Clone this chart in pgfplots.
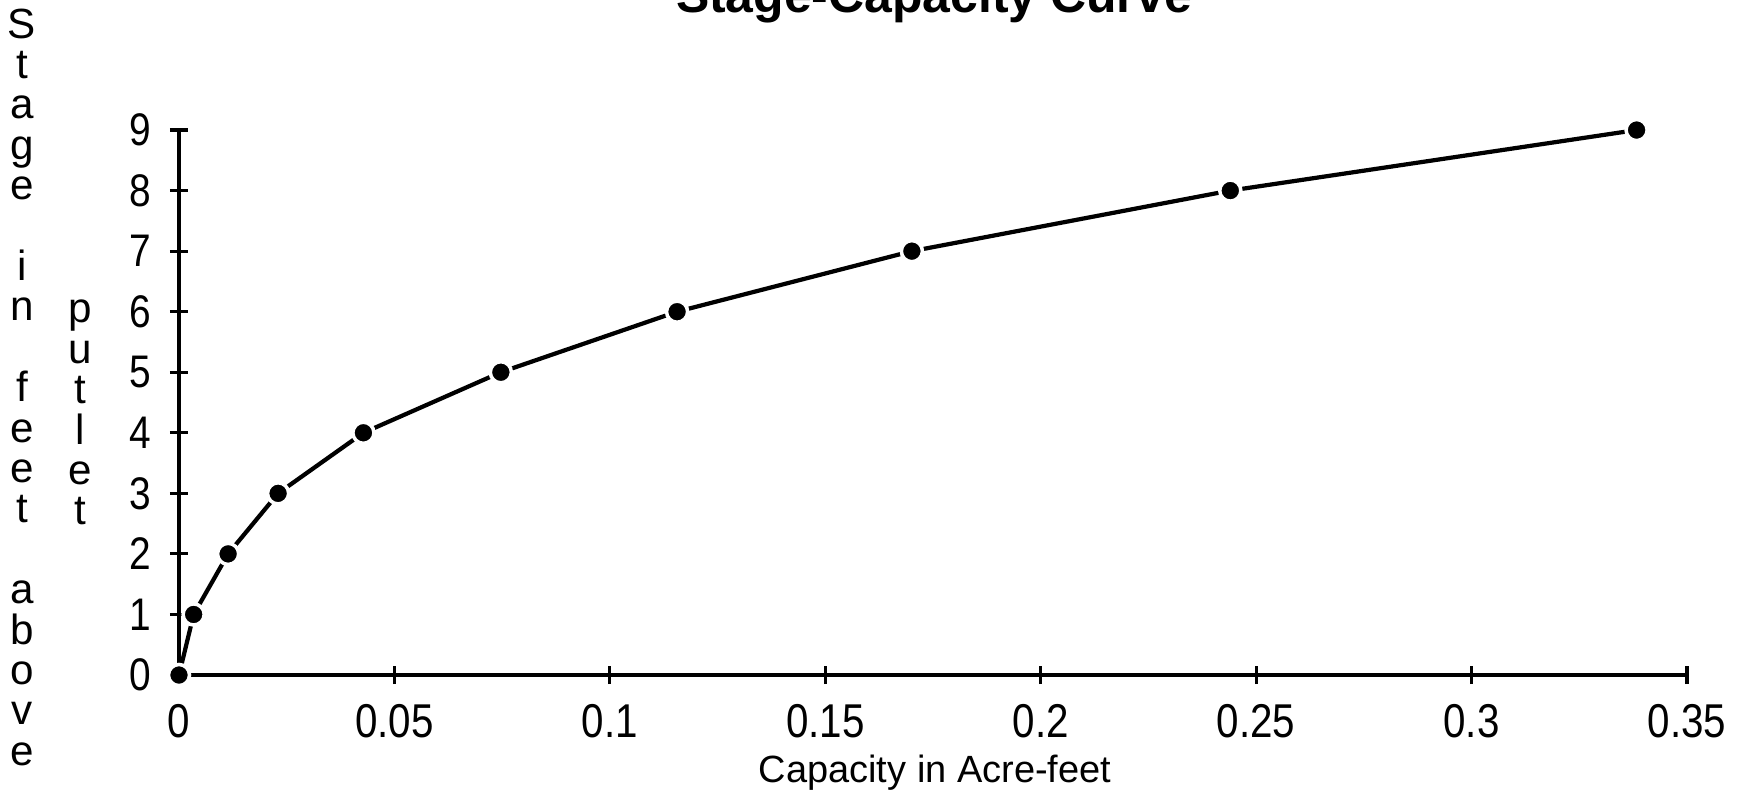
\documentclass[border=0pt]{standalone}
\usepackage{fontspec}
\setmainfont{Liberation Sans}
\newfontfamily\narrowfont[FakeStretch=0.85]{Liberation Sans}
\usepackage{pgfplots}
\pgfplotsset{compat=1.18}
\begin{document}
\begin{tikzpicture}[x=1cm,y=1cm]
\useasboundingbox (0,0) rectangle (17.52,7.96);
\begin{axis}[
  at={(1.79cm,1.21cm)}, anchor=south west,
  scale only axis, width=15.08cm, height=5.45cm,
  xmin=0, xmax=0.35, ymin=0, ymax=9,
  axis lines=left, axis line style={-, line width=1.1pt, black},
  xtick={0,0.05,0.1,0.15,0.2,0.25,0.3,0.35},
  xticklabels={0,0.05,0.1,0.15,0.2,0.25,0.3,0.35},
  ytick={0,1,2,3,4,5,6,7,8,9},
  yticklabels={0,1,2,3,4,5,6,7,8,9},
  tick align=center, major tick length=0.18cm,
  tick style={line width=0.9pt, black},
  xticklabel style={font=\narrowfont\fontsize{13.5}{15}\selectfont, yshift=-0.08cm},
  yticklabel style={font=\narrowfont\fontsize{13}{15}\selectfont, xshift=-0.06cm},
  clip=false,
]
\addplot[black, line width=1.2pt, mark=*, mark size=3.0pt,
  mark options={fill=black, draw=white, line width=1pt}]
coordinates {
 (0,0) (0.0034,1) (0.0114,2) (0.0230,3) (0.0428,4) (0.0747,5)
 (0.1156,6) (0.1701,7) (0.2440,8) (0.3383,9)
};
\end{axis}
\node[anchor=base, font=\bfseries\fontsize{14.2}{16}\selectfont] at (9.34,7.83) {Stage-Capacity Curve};
\node[anchor=base, font=\fontsize{10.8}{13}\selectfont] at (9.35,0.14) {Capacity in Acre-feet};
\foreach \ch/\k in {S/0,t/1,a/2,g/3,e/4,i/6,n/7,f/9,e/10,e/11,t/12,a/14,b/15,o/16,v/17,e/18}
  \node[anchor=base, font=\fontsize{12}{13}\selectfont, inner sep=0pt] at (0.22,{(796-38-40.4*\k)/100}) {\ch};
\foreach \ch/\k in {p/7,u/8,t/9,l/10,e/11,t/12}
  \node[anchor=base, font=\fontsize{12}{13}\selectfont, inner sep=0pt] at (0.80,{(796-40-40.4*\k)/100}) {\ch};
\end{tikzpicture}
\end{document}
